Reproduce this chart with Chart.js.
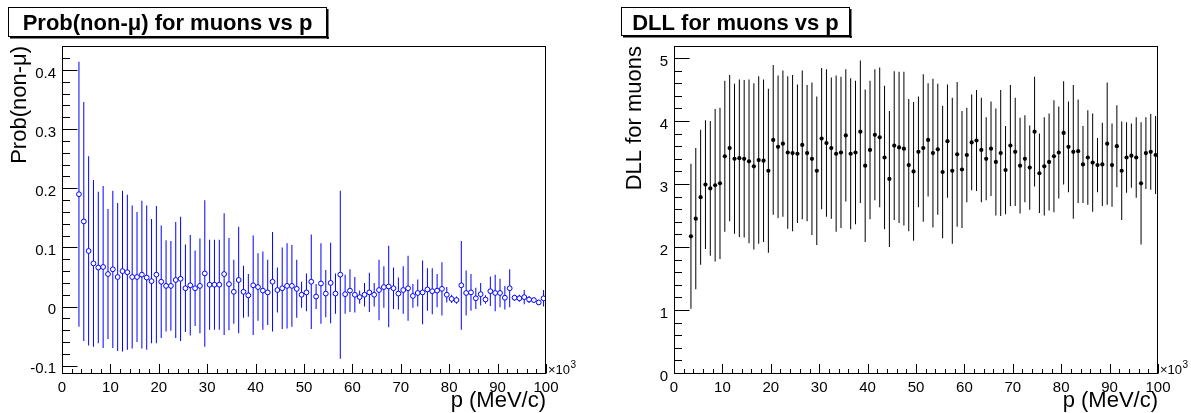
<!DOCTYPE html>
<html>
<head>
<meta charset="utf-8">
<title>Muon ID vs p</title>
<script src="https://cdn.jsdelivr.net/npm/chart.js@4.4.1/dist/chart.umd.min.js"></script>
<style>
  html, body { margin: 0; padding: 0; background: #fff; }
  #wrap { position: relative; width: 1191px; height: 413px; }
  canvas { position: absolute; top: 0; }
  #probCanvas { left: 0; }
  #dllCanvas { left: 595px; }
</style>
</head>
<body>
<div id="wrap">
  <canvas id="probCanvas" width="595" height="413"></canvas>
  <canvas id="dllCanvas" width="596" height="413"></canvas>
</div>
<script>
// momentum bin centres (x 10^3 MeV/c)
const momentum = [
    3.5, 4.5, 5.5, 6.5, 7.5, 8.5, 9.5, 10.5, 11.5, 12.5,
    13.5, 14.5, 15.5, 16.5, 17.5, 18.5, 19.5, 20.5, 21.5, 22.5,
    23.5, 24.5, 25.5, 26.5, 27.5, 28.5, 29.5, 30.5, 31.5, 32.5,
    33.5, 34.5, 35.5, 36.5, 37.5, 38.5, 39.5, 40.5, 41.5, 42.5,
    43.5, 44.5, 45.5, 46.5, 47.5, 48.5, 49.5, 50.5, 51.5, 52.5,
    53.5, 54.5, 55.5, 56.5, 57.5, 58.5, 59.5, 60.5, 61.5, 62.5,
    63.5, 64.5, 65.5, 66.5, 67.5, 68.5, 69.5, 70.5, 71.5, 72.5,
    73.5, 74.5, 75.5, 76.5, 77.5, 78.5, 79.5, 80.5, 81.5, 82.5,
    83.5, 84.5, 85.5, 86.5, 87.5, 88.5, 89.5, 90.5, 91.5, 92.5,
    93.5, 94.5, 95.5, 96.5, 97.5, 98.5, 99.5
];

const probNonMu = [
    0.190, 0.144, 0.094, 0.073, 0.066, 0.067, 0.055, 0.063, 0.050, 0.060,
    0.058, 0.050, 0.050, 0.054, 0.049, 0.043, 0.054, 0.042, 0.035, 0.035,
    0.045, 0.047, 0.031, 0.036, 0.031, 0.035, 0.056, 0.037, 0.037, 0.037,
    0.055, 0.038, 0.025, 0.045, 0.025, 0.019, 0.036, 0.033, 0.027, 0.024,
    0.042, 0.028, 0.031, 0.035, 0.035, 0.030, 0.020, 0.024, 0.042, 0.017,
    0.039, 0.022, 0.040, 0.022, 0.054, 0.021, 0.027, 0.020, 0.016, 0.020,
    0.024, 0.020, 0.028, 0.033, 0.034, 0.031, 0.022, 0.028, 0.031, 0.018,
    0.023, 0.024, 0.029, 0.026, 0.027, 0.030, 0.020, 0.013, 0.011, 0.036,
    0.023, 0.024, 0.014, 0.021, 0.012, 0.026, 0.023, 0.023, 0.015, 0.031,
    0.015, 0.014, 0.016, 0.012, 0.011, 0.007, 0.014
];

const probNonMuErr = [
    0.224, 0.202, 0.160, 0.141, 0.128, 0.137, 0.110, 0.133, 0.125, 0.136,
    0.131, 0.121, 0.110, 0.125, 0.122, 0.105, 0.116, 0.095, 0.077, 0.076,
    0.098, 0.105, 0.074, 0.085, 0.064, 0.080, 0.124, 0.076, 0.076, 0.076,
    0.103, 0.078, 0.054, 0.090, 0.044, 0.036, 0.084, 0.057, 0.066, 0.055,
    0.084, 0.038, 0.069, 0.072, 0.069, 0.049, 0.022, 0.032, 0.080, 0.021,
    0.068, 0.040, 0.068, 0.034, 0.142, 0.033, 0.036, 0.030, 0.011, 0.020,
    0.033, 0.020, 0.051, 0.035, 0.069, 0.035, 0.027, 0.040, 0.055, 0.020,
    0.023, 0.054, 0.036, 0.039, 0.028, 0.045, 0.013, 0.007, 0.006, 0.075,
    0.038, 0.031, 0.018, 0.019, 0.007, 0.025, 0.031, 0.024, 0.020, 0.032,
    0.005, 0.006, 0.012, 0.006, 0.004, 0.004, 0.014
];

const dllMuon = [
    2.17, 2.45, 2.79, 2.99, 2.93, 2.98, 3.01, 3.44, 3.57, 3.40,
    3.41, 3.40, 3.36, 3.28, 3.38, 3.37, 3.21, 3.70, 3.59, 3.64,
    3.50, 3.49, 3.48, 3.62, 3.49, 3.40, 3.21, 3.72, 3.65, 3.57,
    3.48, 3.50, 3.77, 3.48, 3.50, 3.83, 3.29, 3.54, 3.78, 3.74,
    3.42, 3.08, 3.61, 3.58, 3.56, 3.30, 3.20, 3.51, 3.57, 3.70,
    3.49, 3.55, 3.19, 3.68, 3.21, 3.47, 3.23, 3.46, 3.66, 3.69,
    3.54, 3.40, 3.56, 3.35, 3.49, 3.22, 3.61, 3.51, 3.29, 3.40,
    3.26, 3.83, 3.17, 3.28, 3.35, 3.44, 3.50, 3.81, 3.59, 3.51,
    3.52, 3.31, 3.42, 3.34, 3.30, 3.31, 3.64, 3.30, 3.60, 3.21,
    3.42, 3.45, 3.42, 3.01, 3.49, 3.51, 3.46
];

const dllMuonErr = [
    1.15, 1.12, 1.07, 1.02, 1.07, 1.21, 1.20, 1.20, 1.16, 1.19,
    1.25, 1.25, 1.30, 1.32, 1.33, 1.29, 1.30, 1.19, 1.13, 1.16,
    1.21, 1.24, 1.10, 1.18, 1.08, 1.21, 1.18, 1.12, 1.17, 1.12,
    1.24, 1.20, 1.05, 1.20, 1.14, 1.13, 1.21, 1.10, 1.04, 1.11,
    1.14, 1.08, 1.18, 1.20, 1.22, 1.05, 1.10, 0.88, 1.17, 0.90,
    1.18, 1.04, 1.05, 0.90, 1.16, 1.15, 0.93, 0.75, 0.76, 0.80,
    0.83, 0.66, 0.75, 0.85, 1.00, 0.70, 0.96, 0.86, 0.76, 0.69,
    0.67, 0.87, 0.63, 0.78, 0.77, 0.89, 0.73, 0.82, 0.72, 1.06,
    0.82, 0.61, 0.75, 0.78, 0.43, 0.66, 0.97, 0.66, 0.65, 0.78,
    0.56, 0.51, 0.64, 0.97, 0.57, 0.60, 0.62
];

const xTickValues = [0, 10, 20, 30, 40, 50, 60, 70, 80, 90, 100];
const probTickValues = [-0.1, 0, 0.1, 0.2, 0.3, 0.4];
const dllTickValues = [0, 1, 2, 3, 4, 5];

const FONT = "'Liberation Sans', Arial, Helvetica, sans-serif";
Chart.defaults.font.family = FONT;
Chart.defaults.color = '#000';

// ROOT style frame, inward ticks, title box and the x10^3 multiplier
const rootStylePlugin = {
    id: 'rootStyle',
    afterDraw(chart, args, opts) {
        const { ctx, chartArea: a, scales } = chart;
        const left = Math.round(a.left) + 0.5;
        const right = Math.round(a.right) - 0.5;
        const top = Math.round(a.top) + 0.5;
        const bottom = Math.round(a.bottom) + 0.5;

        ctx.save();
        ctx.strokeStyle = '#000';
        ctx.lineWidth = 1;
        ctx.strokeRect(left, top, right - left, bottom - top);

        // x ticks, pointing up from the bottom axis
        ctx.beginPath();
        const xs = scales.x;
        const nx0 = Math.ceil(xs.min / opts.xStep - 1e-9);
        const nx1 = Math.floor(xs.max / opts.xStep + 1e-9);
        for (let n = nx0; n <= nx1; n++) {
            const px = Math.round(xs.getPixelForValue(n * opts.xStep)) + 0.5;
            const len = n % opts.xMajorEvery === 0 ? 9.5 : 4.5;
            ctx.moveTo(px, bottom);
            ctx.lineTo(px, bottom - len);
        }
        // y ticks, pointing right from the left axis
        const ys = scales.y;
        const ny0 = Math.ceil(ys.min / opts.yStep - 1e-9);
        const ny1 = Math.floor(ys.max / opts.yStep + 1e-9);
        for (let n = ny0; n <= ny1; n++) {
            const py = Math.round(ys.getPixelForValue(n * opts.yStep)) + 0.5;
            const len = n % opts.yMajorEvery === 0 ? 15 : 7.5;
            ctx.moveTo(left, py);
            ctx.lineTo(left + len, py);
        }
        ctx.stroke();

        // title pave with shadow
        const b = opts.box;
        ctx.fillStyle = '#fff';
        ctx.fillRect(b.x, b.y, b.w, b.h);
        ctx.fillStyle = '#000';
        ctx.fillRect(b.x + 2, b.y + b.h, b.w, 1.5);
        ctx.fillRect(b.x + b.w, b.y + 2, 1.5, b.h);
        ctx.strokeRect(b.x + 0.5, b.y + 0.5, b.w - 1, b.h - 1);
        ctx.font = 'bold 22px ' + FONT;
        ctx.textAlign = 'center';
        ctx.textBaseline = 'alphabetic';
        ctx.fillText(opts.title, b.x + b.w / 2, b.y + 23);

        // x10^3 exponent next to the x axis end
        ctx.textAlign = 'left';
        ctx.font = '13px ' + FONT;
        ctx.fillText('\u00d710', a.right + 2, a.bottom + 0.5);
        const w = ctx.measureText('\u00d710').width;
        ctx.font = '10px ' + FONT;
        ctx.fillText('3', a.right + 2 + w + 0.5, a.bottom - 5);
        ctx.restore();
    }
};

function makeChart(canvasId, cfg) {
    const points = momentum.map((p, i) => ({ x: p, y: cfg.values[i] }));
    const errorBars = momentum.map((p, i) => ({
        x: p,
        y: [cfg.values[i] - cfg.errors[i], cfg.values[i] + cfg.errors[i]]
    }));

    return new Chart(document.getElementById(canvasId), {
        type: 'scatter',
        data: {
            datasets: [
                {
                    type: 'scatter',
                    data: points,
                    pointStyle: 'circle',
                    pointRadius: cfg.pointRadius,
                    pointBorderWidth: cfg.pointBorderWidth,
                    pointBorderColor: cfg.color,
                    pointBackgroundColor: cfg.pointFill
                },
                {
                    type: 'bar',
                    data: errorBars,
                    backgroundColor: cfg.color,
                    borderWidth: 0,
                    barThickness: 1,
                    inflateAmount: 0
                }
            ]
        },
        options: {
            responsive: false,
            animation: false,
            events: [],
            layout: { padding: cfg.padding },
            scales: {
                x: {
                    type: 'linear',
                    min: 0,
                    max: 100,
                    offset: false,
                    afterFit: (s) => { s.height = 40; },
                    afterBuildTicks: (s) => { s.ticks = xTickValues.map(v => ({ value: v })); },
                    grid: { display: false, drawTicks: false },
                    border: { display: false },
                    ticks: {
                        padding: 6,
                        maxRotation: 0,
                        autoSkip: false,
                        font: { size: 15 },
                        callback: (v) => String(v)
                    },
                    title: {
                        display: true,
                        text: 'p (MeV/c)',
                        align: 'end',
                        font: { size: 22, lineHeight: 1 },
                        padding: { top: 0, bottom: 1 }
                    }
                },
                y: {
                    type: 'linear',
                    min: cfg.yMin,
                    max: cfg.yMax,
                    afterFit: (s) => { s.width = cfg.yAxisWidth; },
                    afterBuildTicks: (s) => { s.ticks = cfg.yTicks.map(v => ({ value: v })); },
                    grid: { display: false, drawTicks: false },
                    border: { display: false },
                    ticks: {
                        padding: 6,
                        labelOffset: 3.5,
                        autoSkip: false,
                        font: { size: 15 },
                        callback: (v) => String(v)
                    },
                    title: {
                        display: true,
                        text: cfg.yTitle,
                        align: 'end',
                        font: { size: 22, lineHeight: 1 },
                        padding: { top: cfg.yTitlePad, bottom: 0 }
                    }
                }
            },
            plugins: {
                legend: { display: false },
                tooltip: { enabled: false },
                rootStyle: {
                    xStep: 2, xMajorEvery: 5,
                    yStep: cfg.yMinorStep, yMajorEvery: 5,
                    title: cfg.title,
                    box: cfg.box
                }
            }
        },
        plugins: [rootStylePlugin]
    });
}

makeChart('probCanvas', {
    values: probNonMu,
    errors: probNonMuErr,
    color: '#0000ff',
    pointFill: '#ffffff',
    pointRadius: 2.4,
    pointBorderWidth: 1,
    yMin: -0.1123,
    yMax: 0.4406,
    yTicks: probTickValues,
    yMinorStep: 0.02,
    yAxisWidth: 62,
    yTitle: 'Prob(non-\u03bc)',
    yTitlePad: 9,
    padding: { left: 0, top: 46, right: 49, bottom: 0 },
    title: 'Prob(non-\u03bc) for muons vs p',
    box: { x: 8, y: 7, w: 319, h: 30 }
});

makeChart('dllCanvas', {
    values: dllMuon,
    errors: dllMuonErr,
    color: '#000000',
    pointFill: '#000000',
    pointRadius: 2.1,
    pointBorderWidth: 0,
    yMin: 0,
    yMax: 5.19,
    yTicks: dllTickValues,
    yMinorStep: 0.2,
    yAxisWidth: 79,
    yTitle: 'DLL for muons',
    yTitlePad: 29,
    padding: { left: 0, top: 46, right: 33, bottom: 0 },
    title: 'DLL for muons vs p',
    box: { x: 26, y: 7, w: 229, h: 29 }
});
</script>
</body>
</html>
